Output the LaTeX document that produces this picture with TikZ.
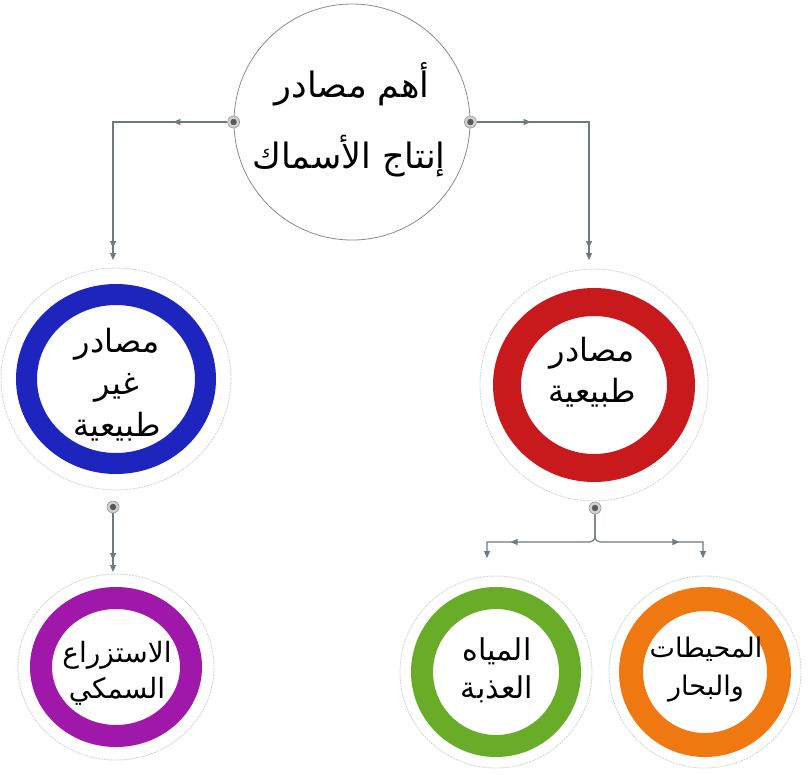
\documentclass[tikz,border=0pt]{standalone}
\usepackage{fontspec}
\TeXXeTstate=1
\newfontfamily\arabicfont[Script=Arabic]{DejaVu Sans}
\usetikzlibrary{shapes.geometric,arrows.meta,decorations.markings}

\definecolor{ringblue}{RGB}{30,36,190}
\definecolor{ringred}{RGB}{200,25,28}
\definecolor{ringpurple}{RGB}{160,24,170}
\definecolor{ringgreen}{RGB}{104,172,40}
\definecolor{ringorange}{RGB}{240,120,16}
\definecolor{connector}{RGB}{112,120,128}

\tikzset{
 halo/.style={ellipse, fill=white, draw=black!16, line width=0.9pt, dash pattern=on 2pt off 1pt, inner sep=0pt, outer sep=0pt},
 ring/.style={ellipse, fill=white, draw=#1, inner sep=0pt, outer sep=0pt},
 arlabel/.style={font=\arabicfont\fontsize{26}{38}\selectfont, align=center, text=black, inner sep=0pt},
 toplabel/.style={font=\arabicfont\fontsize{35}{40}\selectfont, align=center, text=black, inner sep=0pt},
 conn/.style={draw=connector, line width=1.2pt},
 dotmark/.style={circle, fill=black!18, draw=black!40, line width=0.6pt, minimum size=12pt, inner sep=0pt, path picture={\fill[black!65] (path picture bounding box.center) circle (3.2pt);}},
 midarrow/.style={postaction={decorate}, decoration={markings, mark=at position #1 with {\arrow{Triangle[length=7pt,width=6pt]}}}},
 endtips/.style={-{Triangle[length=7pt,width=6pt,sep=5pt]Triangle[length=7pt,width=6pt]}},
 endtip/.style={-{Triangle[length=7pt,width=6pt]}},
}

\begin{document}
\begin{tikzpicture}[x=1pt,y=-1pt]
\useasboundingbox (0,0) rectangle (810,774);
\fill[white] (0,0) rectangle (810,774);

% top circle
\node[circle, draw=black!45, line width=0.8pt, fill=white, minimum size=236pt, inner sep=0pt] (top) at (352,122) {};
\node[toplabel] (topA) at (352,84) {\beginR أهم مصادر\endR};
\node[toplabel] (topB) at (349,156) {\beginR إنتاج الأسماك\endR};

% blue
\node[halo, minimum width=230pt, minimum height=222pt] (bhalo) at (116,379) {};
\node[ring=ringblue, line width=21pt, minimum width=179pt, minimum height=169pt] (bring) at (116,379) {};
\node[arlabel, font=\arabicfont\fontsize{32}{42}\selectfont] (btext) at (117,385) {\beginR مصادر\endR\\\beginR غير\endR\\\beginR طبيعية\endR};

% red
\node[halo, minimum width=228pt, minimum height=232pt] (rhalo) at (594,385) {};
\node[ring=ringred, line width=28pt, minimum width=174pt, minimum height=166pt] (rring) at (594,385) {};
\node[arlabel, font=\arabicfont\fontsize{32}{41}\selectfont] (rtext) at (592,372) {\beginR مصادر\endR\\\beginR طبيعية\endR};

% purple
\node[halo, minimum width=196pt, minimum height=186pt] (phalo) at (116,667) {};
\node[ring=ringpurple, line width=22pt, minimum width=150pt, minimum height=138pt] (pring) at (116,667) {};
\node[arlabel, font=\arabicfont\fontsize{28}{36}\selectfont] (ptext) at (117,673) {\beginR الاستزراع\endR\\\beginR السمكي\endR};

% green
\node[halo, minimum width=192pt, minimum height=192pt] (ghalo) at (496,672) {};
\node[ring=ringgreen, line width=22pt, minimum width=148pt, minimum height=148pt] (gring) at (496,672) {};
\node[arlabel, font=\arabicfont\fontsize{30}{38}\selectfont] (gtext) at (497,670) {\beginR المياه\endR\\\beginR العذبة\endR};

% orange
\node[halo, minimum width=192pt, minimum height=192pt] (ohalo) at (705,672) {};
\node[ring=ringorange, line width=24pt, minimum width=148pt, minimum height=146pt] (oring) at (705,672) {};
\node[arlabel, font=\arabicfont\fontsize{27}{38}\selectfont] (otext) at (706,670) {\beginR المحيطات\endR\\\beginR والبحار\endR};

% connector dots
\node[dotmark] (dotL) at (top.west) {};
\node[dotmark] (dotR) at (top.east) {};
\node[dotmark] (dotB) at (113,507) {};
\node[dotmark] (dotRd) at (595,508) {};

% free ends
\coordinate (bIn) at (113,260);
\coordinate (rIn) at (589,260);
\coordinate (pIn) at (113,572);
\coordinate (split) at (595,542);
\coordinate (gIn) at (487,558);
\coordinate (oIn) at (703,558);

% connectors
\draw[conn, midarrow=54pt, endtips] (dotL) -| (bIn);
\draw[conn, midarrow=54pt, endtips] (dotR) -| (rIn);
\draw[conn, endtips] (dotB) -- (pIn);
\draw[conn, midarrow=110pt, endtip] (dotRd) [rounded corners=5pt] -- (split) [sharp corners] -| (gIn);
\draw[conn, midarrow=110pt, endtip] (dotRd) [rounded corners=5pt] -- (split) [sharp corners] -| (oIn);
\end{tikzpicture}
\end{document}
